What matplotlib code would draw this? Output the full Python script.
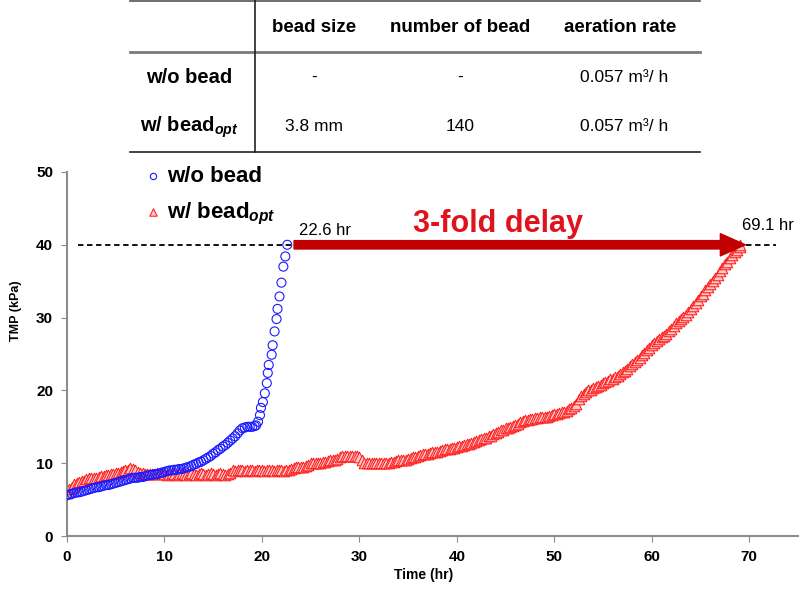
import numpy as np
import matplotlib
matplotlib.use("Agg")
import matplotlib.pyplot as plt
from matplotlib.lines import Line2D
from matplotlib.patches import FancyArrowPatch

plt.rcParams['font.family'] = ['Liberation Sans', 'DejaVu Sans']
plt.rcParams['mathtext.fontset'] = 'custom'
plt.rcParams['mathtext.rm'] = 'Liberation Sans:bold'
plt.rcParams['mathtext.it'] = 'Liberation Sans:bold:italic'

# w/o bead (time in hr, TMP in kPa), every 0.25 hr then denser near the end
t_nobead = list(np.arange(0, 19.26, 0.25)) + [19.4, 19.6, 19.8, 19.9, 20.1, 20.3,
            20.5, 20.6, 20.7, 21.0, 21.1, 21.3, 21.5, 21.6, 21.8, 22.0, 22.2, 22.4, 22.6]
p_nobead = [5.6, 5.7, 5.8, 5.9,   6.0, 6.0, 6.1, 6.2,   6.3, 6.4, 6.5, 6.6,
            6.7, 6.7, 6.8, 6.9,   7.0, 7.0, 7.1, 7.2,   7.3, 7.4, 7.5, 7.6,
            7.7, 7.8, 7.9, 8.0,   8.0, 8.0, 8.1, 8.1,   8.2, 8.3, 8.4, 8.4,
            8.5, 8.5, 8.6, 8.7,   8.8, 8.9, 9.0, 9.0,   9.1, 9.1, 9.2, 9.2,
            9.3, 9.4, 9.5, 9.6,   9.8, 9.9, 10.1, 10.2, 10.4, 10.6, 10.8, 11.0,
            11.3, 11.5, 11.8, 12.0, 12.3, 12.5, 12.8, 13.1, 13.4, 13.7, 14.1, 14.5,
            14.8, 14.9, 15.0, 15.0, 15.0, 15.1,
            15.2, 15.7, 16.6, 17.6, 18.4, 19.6, 21.0, 22.4, 23.5, 24.9, 26.2,
            28.1, 29.8, 31.2, 32.9, 34.8, 37.0, 38.4, 40.0]

# w/ bead_opt, every 0.25 hr up to 69.0, last point 69.1
t_bead = list(np.arange(0, 69.01, 0.25)) + [69.1]
p_bead = [5.9, 6.5, 6.8, 7.1,   7.3, 7.4, 7.5, 7.6,   7.8, 7.9, 8.0, 8.0,
          8.0, 8.1, 8.2, 8.3,   8.4, 8.4, 8.5, 8.5,   8.6, 8.7, 8.8, 8.9,
          9.0, 9.1, 9.3, 9.2,   9.0, 8.8, 8.7, 8.6,   8.5, 8.5, 8.5, 8.5,
          8.5, 8.6, 8.6, 8.5,   8.5, 8.4, 8.5, 8.6,   8.5, 8.4, 8.5, 8.6,
          8.5, 8.4, 8.5, 8.6,   8.5, 8.4, 8.5, 8.6,   8.5, 8.4, 8.5, 8.6,
          8.5, 8.4, 8.5, 8.6,   8.5, 8.4, 8.5, 8.6,   9.0, 8.9, 9.0, 9.1,
          9.0, 8.9, 9.0, 9.1,   9.0, 8.9, 9.0, 9.1,   9.0, 8.9, 9.0, 9.1,
          9.0, 8.9, 9.0, 9.1,   9.0, 8.9, 9.0, 9.1,   9.2, 9.3, 9.5, 9.5,
          9.5, 9.5, 9.6, 9.8,   10.0, 10.0, 10.0, 10.0, 10.0, 10.1, 10.2, 10.3,
          10.5, 10.5, 10.5, 10.6, 10.8, 11.0, 11.0, 11.0, 11.0, 11.0, 11.0, 11.0,
          10.8, 10.5, 10.0, 10.0, 10.0, 10.0, 10.0, 10.0, 10.0, 10.0, 10.0, 10.0,
          10.0, 10.1, 10.2, 10.3, 10.4, 10.4, 10.5, 10.5, 10.6, 10.7, 10.8, 10.9,
          11.0, 11.1, 11.2, 11.2, 11.3, 11.4, 11.5, 11.5, 11.6, 11.7, 11.8, 11.9,
          12.0, 12.0, 12.1, 12.1, 12.2, 12.3, 12.4, 12.5, 12.6, 12.7, 12.8, 12.9,
          13.0, 13.2, 13.3, 13.4, 13.5, 13.7, 13.8, 14.0, 14.2, 14.3, 14.5, 14.6,
          14.8, 14.9, 15.0, 15.1, 15.2, 15.4, 15.6, 15.8, 15.9, 16.0, 16.1, 16.1,
          16.2, 16.2, 16.3, 16.3, 16.4, 16.4, 16.5, 16.6, 16.7, 16.8, 16.9, 17.0,
          17.1, 17.2, 17.4, 17.6, 17.8, 18.2, 18.8, 19.2, 19.5, 19.8, 20.0, 20.1,
          20.3, 20.4, 20.6, 20.8, 21.0, 21.1, 21.3, 21.5, 21.6, 21.8, 22.0, 22.2,
          22.5, 22.7, 23.0, 23.3, 23.6, 23.9, 24.2, 24.5, 24.8, 25.1, 25.5, 25.8,
          26.2, 26.5, 26.8, 27.0, 27.3, 27.5, 27.8, 28.1, 28.5, 28.8, 29.2, 29.5,
          29.8, 30.1, 30.4, 30.8, 31.2, 31.6, 32.0, 32.4, 32.9, 33.3, 33.8, 34.2,
          34.6, 35.0, 35.5, 35.9, 36.4, 36.8, 37.3, 37.7, 38.2, 38.6, 39.0, 39.3,
          39.7, 40.0]

# table above the chart
col_heads = ['bead size', 'number of bead', 'aeration rate']
row_heads = ['w/o bead', 'w/ bead$_{opt}$']
cells = [['-', '-', '0.057 m³/ h'],
         ['3.8 mm', '140', '0.057 m³/ h']]

fig = plt.figure(figsize=(8.09, 5.90), dpi=100)
ax = fig.add_axes([0.0828, 0.0915, 0.9036, 0.617])

ax.scatter(t_nobead, p_nobead, s=42, marker='o', facecolors='none',
           edgecolors='#1a1aff', linewidths=0.8, zorder=3, label='w/o bead')
ax.scatter(t_bead, p_bead, s=58, marker='^', facecolors='#ffcccc',
           edgecolors='#ff1a1a', linewidths=0.75, zorder=2, label='w/ bead$_{opt}$')

ax.plot([1.1, 72.7], [40, 40], ls=(0, (3, 2)), color='black', lw=1.3, zorder=1)

arrow = FancyArrowPatch((23.3, 40), (69.6, 40),
                        arrowstyle='simple,head_length=0.9,head_width=0.8,tail_width=0.3',
                        mutation_scale=20, color='#c00000', shrinkA=0, shrinkB=0, zorder=4)
ax.add_patch(arrow)
ax.text(44.2, 40.8, '3-fold delay', color='#e0121c', fontsize=22,
        fontweight='bold', ha='center', va='bottom')
ax.text(23.8, 41.0, '22.6 hr', fontsize=12, ha='left', va='bottom')
ax.text(69.3, 41.6, '69.1 hr', fontsize=12, ha='left', va='bottom')

ax.set_xlim(0, 75)
ax.set_ylim(0, 50)
ax.set_xticks(range(0, 71, 10))
ax.set_yticks(range(0, 51, 10))
for s in ['top', 'right']:
    ax.spines[s].set_visible(False)
for s in ['left', 'bottom']:
    ax.spines[s].set_color('#8c8c8c')
    ax.spines[s].set_linewidth(1.5)
ax.tick_params(direction='out', length=4, color='#8c8c8c', labelsize=11)
ax.tick_params(axis='x', pad=6)
ax.tick_params(axis='y', pad=6)
for lab in ax.get_xticklabels() + ax.get_yticklabels():
    lab.set_fontweight('bold')
ax.set_xlabel('Time (hr)', fontsize=10, fontweight='bold')
ax.set_ylabel('TMP (kPa)', fontsize=9, fontweight='bold')
ax.xaxis.set_label_coords(0.488, -0.087)
ax.yaxis.set_label_coords(-0.062, 0.618)

leg = ax.legend(loc='upper left', bbox_to_anchor=(0.094, 1.04), frameon=False,
                prop={'size': 16, 'weight': 'bold'}, handlelength=0.8,
                handletextpad=0.2, labelspacing=0.6, markerscale=0.7,
                borderaxespad=0)

# table lines
lx0, lx1 = 0.1607, 0.8653
fig.add_artist(Line2D([lx0, lx1], [0.998, 0.998], color='#555555', lw=1.2))
fig.add_artist(Line2D([lx0, lx1], [0.912, 0.912], color='#7a7a7a', lw=2))
fig.add_artist(Line2D([lx0, lx1], [0.742, 0.742], color='#222222', lw=1.2))
fig.add_artist(Line2D([0.3152, 0.3152], [0.742, 1.0], color='#222222', lw=1.2))

col_x = [0.388, 0.569, 0.767]
row_y = [0.869, 0.785]
head_y = 0.954
for x, h in zip(col_x, col_heads):
    fig.text(x, head_y, h, fontsize=13.5, fontweight='bold', ha='center', va='center')
for y, r, vals in zip(row_y, row_heads, cells):
    fig.text(0.234, y, r, fontsize=14.5, fontweight='bold', ha='center', va='center')
    for x, v in zip(col_x, vals):
        fig.text(x + (0.005 if 'm³' in v else 0), y, v, fontsize=12.5,
                 ha='center', va='center')

fig.savefig('out.png', dpi=100)
